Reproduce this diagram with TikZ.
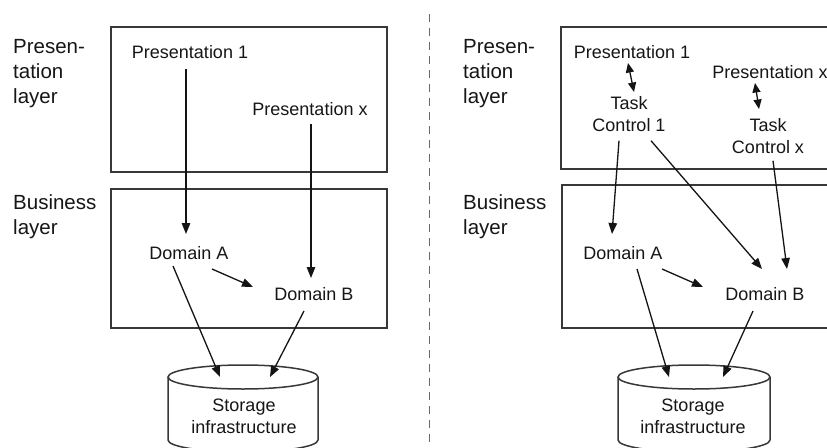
\documentclass[tikz,border=0pt]{standalone}
\usepackage{fontspec}
\setmainfont{Liberation Sans}
\usetikzlibrary{arrows.meta,calc}
\definecolor{textc}{HTML}{161616}
\definecolor{boxc}{HTML}{383838}
\definecolor{arrc}{HTML}{141414}
\definecolor{dashc}{HTML}{6A6A6A}
\begin{document}
\begin{tikzpicture}[x=1pt,y=-1pt,
  txt/.style={inner sep=0pt,font=\fontsize{18}{22}\selectfont,text=textc},
  mtxt/.style={txt,align=center,anchor=north},
  lbl/.style={inner sep=0pt,font=\fontsize{20.5}{25}\selectfont,align=left,anchor=north west,text=textc},
  layerbox/.style={draw=boxc,line width=1.8pt},
  arr/.style={draw=arrc,line width=1.3pt,-{Triangle[length=11pt,width=8.5pt]}},
  dbl/.style={draw=arrc,line width=1.3pt,{Triangle[length=9.5pt,width=8pt]}-{Triangle[length=9.5pt,width=8pt]}},
  cyl/.style={draw=boxc,line width=1.5pt},
  sep/.style={draw=dashc,line width=1.7pt,dash pattern=on 8pt off 6pt}]
\useasboundingbox (0,0) rectangle (827,447);
\clip (0,0) rectangle (827,447);
\fill[white] (0,0) rectangle (827,447);

% separator
\draw[sep] (429.5,14) -- (429.5,447);

% ================= LEFT =================
\draw[layerbox] (111,27) rectangle (387,172);
\draw[layerbox] (111,189) rectangle (387,328);
\node[lbl] (lpl) at (13,39.5) {Presen-\\tation\\layer};
\node[lbl] (lbl) at (13,194.5) {Business\\layer};

\node[txt,anchor=base] (lp1) at (190,58.5) {Presentation 1};
\node[txt,anchor=base] (lpx) at (310,115.5) {Presentation x};
\node[txt,anchor=base] (lda) at (189,259.5) {Domain A};
\node[txt,anchor=base] (ldb) at (314,300.5) {Domain B};

% storage cylinder
\draw[cyl] (168,377) -- (168,440) arc[start angle=180,end angle=360,x radius=75pt,y radius=12pt] -- (318,377);
\draw[cyl] (243,377) ellipse [x radius=75pt,y radius=12pt];
\node[mtxt] (lst) at (244,398.5) {Storage\\infrastructure};
\coordinate (lstA) at (220,377);
\coordinate (lstB) at (270,377);

\draw[arr] ($(lp1.base)+(-4,10.5)$) -- ($(lda.base)+(-3,-25.5)$);
\draw[arr] ($(lpx.base)+(1,8.5)$) -- ($(ldb.base)+(-3,-22.5)$);
\draw[arr] ($(lda.base)+(23,9.5)$) -- ($(ldb.base)+(-61,-13.5)$);
\draw[arr] ($(lda.base)+(-16,6.5)$) -- (lstA);
\draw[arr] ($(ldb.base)+(-10,10.5)$) -- (lstB);

% ================= RIGHT =================
\draw[layerbox] (561,27) rectangle (845,169);
\draw[layerbox] (562,185) rectangle (845,328);
\node[lbl] (rpl) at (463,39.5) {Presen-\\tation\\layer};
\node[lbl] (rbl) at (463,194.5) {Business\\layer};

\node[txt,anchor=base] (rp1) at (632,58.4) {Presentation 1};
\node[txt,anchor=base] (rpx) at (770,78.4) {Presentation x};
\node[mtxt] (rt1) at (629,96.6) {Task\\Control 1};
\node[mtxt] (rtx) at (768,118.6) {Task\\Control x};
\node[txt,anchor=base] (rda) at (623,259.4) {Domain A};
\node[txt,anchor=base] (rdb) at (765,300.4) {Domain B};

\draw[cyl] (618,377) -- (618,440) arc[start angle=180,end angle=360,x radius=76pt,y radius=12pt] -- (770,377);
\draw[cyl] (694,377) ellipse [x radius=76pt,y radius=12pt];
\node[mtxt] (rst) at (693,398.5) {Storage\\infrastructure};
\coordinate (rstA) at (669,377);
\coordinate (rstB) at (723,377);

\draw[dbl] ($(rp1.base)+(-4,4.6)$) -- ($(rt1.north)+(5,-4.6)$);
\draw[dbl] ($(rpx.base)+(-15,4.6)$) -- ($(rtx.north)+(-9,-9.6)$);
\draw[arr] ($(rt1.south)+(-10,8.5)$) -- ($(rda.base)+(-11,-25.4)$);
\draw[arr] ($(rt1.south)+(22,8.5)$) -- ($(rdb.base)+(-3,-31.4)$);
\draw[arr] ($(rtx.south)+(5,6.5)$) -- ($(rdb.base)+(22,-31.4)$);
\draw[arr] ($(rda.base)+(39,9.6)$) -- ($(rdb.base)+(-62,-13.4)$);
\draw[arr] ($(rda.base)+(14,9.6)$) -- (rstA);
\draw[arr] ($(rdb.base)+(-12,10.6)$) -- (rstB);
\end{tikzpicture}
\end{document}
